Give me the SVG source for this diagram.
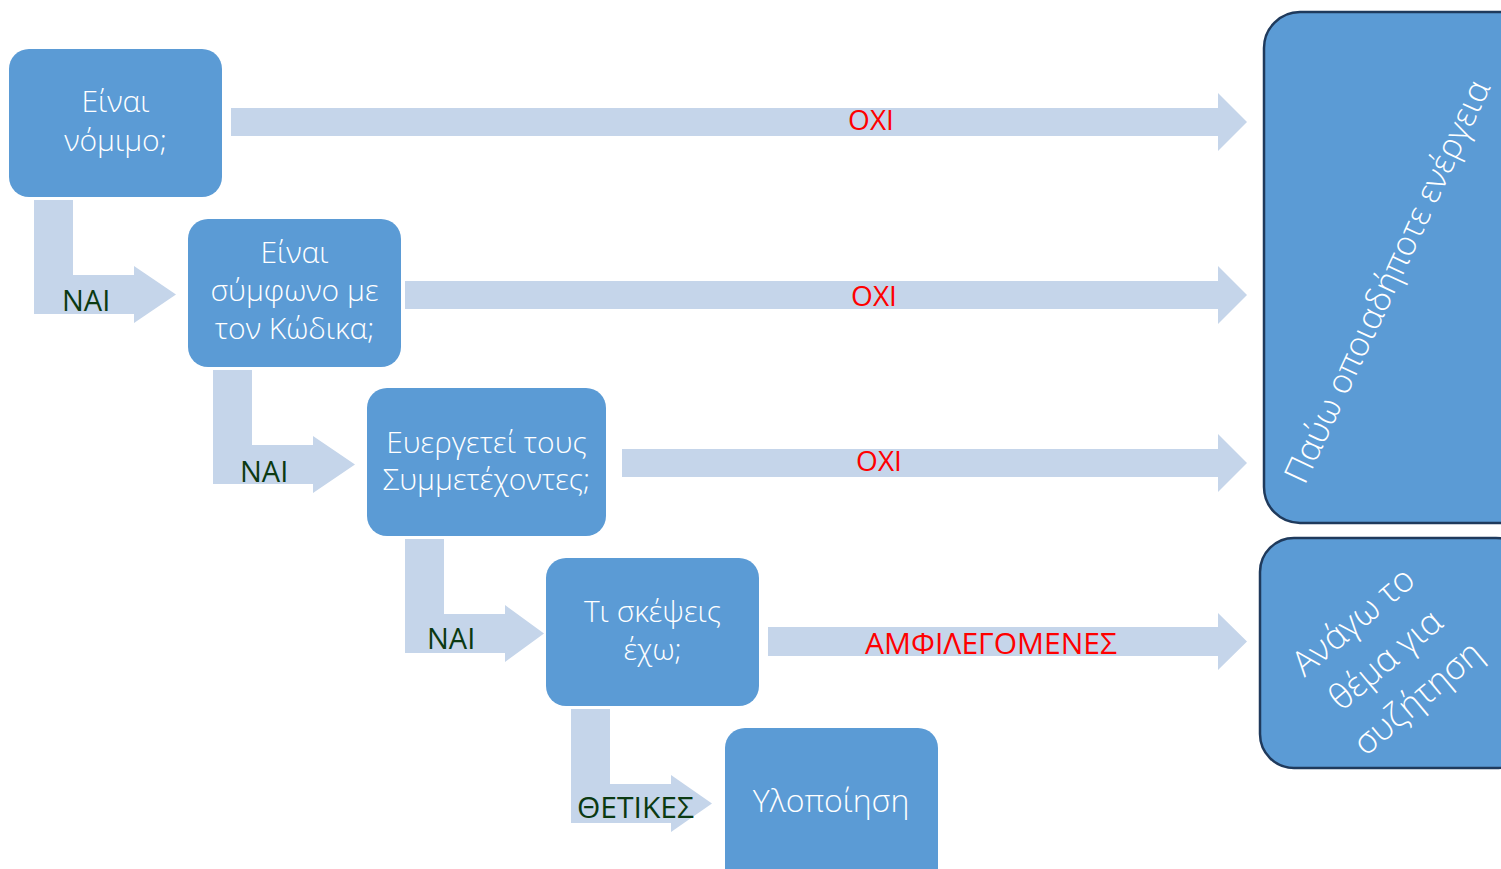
<svg xmlns="http://www.w3.org/2000/svg" width="1501" height="869" viewBox="0 0 1501 869">
<style>
.box{fill:#5B9BD5;}
.end{fill:#5B9BD5;stroke:#1F3A5C;stroke-width:2.5;}
.arr{fill:#C5D5EA;}
.bt{font-family:"Open Sans","Noto Sans","DejaVu Sans",sans-serif;font-weight:300;font-size:30px;fill:#FFFFFF;text-anchor:middle;}
.rt{font-family:"Open Sans","Noto Sans","DejaVu Sans",sans-serif;font-weight:300;font-size:35px;fill:#FFFFFF;text-anchor:middle;dominant-baseline:central;}
.no{font-family:"Open Sans","Noto Sans","DejaVu Sans",sans-serif;font-size:28px;fill:#FF0000;text-anchor:middle;}
.yes{font-family:"Open Sans","Noto Sans","DejaVu Sans",sans-serif;font-size:29px;fill:#0B3A12;}
</style>
<rect width="1501" height="869" fill="#FFFFFF"/>
<g id="connectors">
<path class="arr" d="M231,108 H1218 V93 L1247,122 L1218,151 V136 H231 Z"/>
<path class="arr" d="M405,281 H1218 V266 L1247,295 L1218,324 V309 H405 Z"/>
<path class="arr" d="M622,449 H1218 V434 L1247,463 L1218,492 V477 H622 Z"/>
<path class="arr" d="M768,627 H1218 V613 L1247,641.5 L1218,670 V656 H768 Z"/>
<path class="arr" d="M34,200 H73 V275 H134 V266 L176,294.5 L134,323 V314 H34 Z"/>
<path class="arr" d="M213,370 H252 V445 H313 V436 L355,464.5 L313,493 V484 H213 Z"/>
<path class="arr" d="M405,539 H444 V614 H505 V605 L544,633.5 L505,662 V653 H405 Z"/>
<path class="arr" d="M571,709 H610 V784 H671 V775 L712,803.5 L671,832 V823 H571 Z"/>
<text class="no" x="871" y="130">ΟΧΙ</text>
<text class="no" x="874" y="306">ΟΧΙ</text>
<text class="no" x="879" y="471">ΟΧΙ</text>
<text class="no" x="991" y="654" style="font-size:30px">ΑΜΦΙΛΕΓΟΜΕΝΕΣ</text>
<text class="yes" x="62" y="311">ΝΑΙ</text>
<text class="yes" x="240" y="482">ΝΑΙ</text>
<text class="yes" x="427" y="649">ΝΑΙ</text>
<text class="yes" x="577" y="818" style="font-size:30px">ΘΕΤΙΚΕΣ</text>
</g>
<g id="node-nomimo">
<rect class="box" x="9" y="49" width="213" height="148" rx="20"/>
<text class="bt" x="115.5" y="112">Είναι</text>
<text class="bt" x="115.5" y="151">νόμιμο;</text>
</g>
<g id="node-kodikas">
<rect class="box" x="188" y="219" width="213" height="148" rx="20"/>
<text class="bt" x="294.5" y="263">Είναι</text>
<text class="bt" x="294.5" y="301">σύμφωνο με</text>
<text class="bt" x="294.5" y="339">τον Κώδικα;</text>
</g>
<g id="node-symmetexontes">
<rect class="box" x="367" y="388" width="239" height="148" rx="20"/>
<text class="bt" x="486.5" y="453">Ευεργετεί τους</text>
<text class="bt" x="486.5" y="490">Συμμετέχοντες;</text>
</g>
<g id="node-skepseis">
<rect class="box" x="546" y="558" width="213" height="148" rx="20"/>
<text class="bt" x="652.5" y="622">Τι σκέψεις</text>
<text class="bt" x="652.5" y="660">έχω;</text>
</g>
<g id="node-ylopoiisi">
<rect class="box" x="725" y="728" width="213" height="170" rx="20"/>
<text class="bt" x="831" y="812" style="font-size:32px">Υλοποίηση</text>
</g>
<g id="node-pavo">
<rect class="end" x="1264" y="12" width="270" height="511" rx="36"/>
<text class="rt" transform="translate(1386,281) rotate(-65)" style="font-size:34px">Παύω οποιαδήποτε ενέργεια</text>
</g>
<g id="node-anago">
<rect class="end" x="1260" y="538" width="270" height="230" rx="34"/>
<text class="rt" transform="translate(1384,658) rotate(-40)"><tspan x="0" y="-50">Ανάγω το</tspan><tspan x="0" y="0">θέμα για</tspan><tspan x="0" y="50">συζήτηση</tspan></text>
</g>
</svg>
